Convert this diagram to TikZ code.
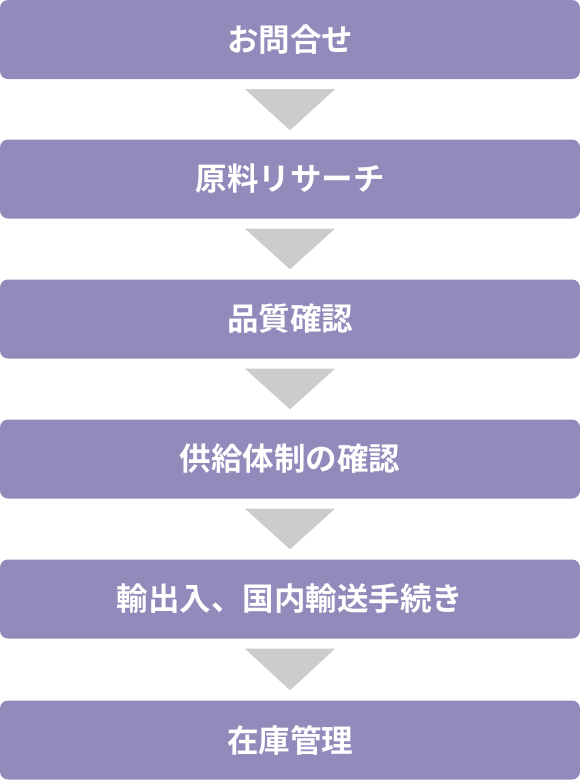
\documentclass[tikz,border=0pt]{standalone}
\usepackage{fontspec}
\usepackage{tikz}
\newfontfamily\jpfont{Noto Sans CJK JP}[BoldFont={* Bold}]
\definecolor{stepviolet}{HTML}{9389BA}
\definecolor{arrowgrey}{HTML}{CCCCCC}

\begin{document}
\begin{tikzpicture}[x=1pt,y=1pt]
\tikzstyle{every node}+=[inner sep=0pt]
\tikzstyle{stepbox}=[fill=stepviolet, rounded corners=8pt, minimum width=580pt, minimum height=79pt, text=white, font=\jpfont\bfseries\fontsize{31.5}{32}\selectfont]
\tikzstyle{downtri}=[fill=arrowgrey]
\useasboundingbox (0,0) rectangle (580,-780);
\node [stepbox] (inquiry) at (290,-39.5) {お問合せ};
\node [stepbox] (research) at (290,-179) {原料リサーチ};
\node [stepbox] (quality) at (290,-319) {品質確認};
\node [stepbox] (supply) at (290,-459) {供給体制の確認};
\node [stepbox] (import) at (290,-599) {輸出入、国内輸送手続き};
\node [stepbox] (stock) at (290,-740) {在庫管理};
\fill [downtri] ([xshift=-45pt,yshift=-10pt]inquiry.south) -- ([xshift=45pt,yshift=-10pt]inquiry.south) -- ([yshift=9pt]research.north) -- cycle;
\fill [downtri] ([xshift=-45pt,yshift=-10pt]research.south) -- ([xshift=45pt,yshift=-10pt]research.south) -- ([yshift=10pt]quality.north) -- cycle;
\fill [downtri] ([xshift=-45pt,yshift=-10pt]quality.south) -- ([xshift=45pt,yshift=-10pt]quality.south) -- ([yshift=10pt]supply.north) -- cycle;
\fill [downtri] ([xshift=-45pt,yshift=-10pt]supply.south) -- ([xshift=45pt,yshift=-10pt]supply.south) -- ([yshift=10pt]import.north) -- cycle;
\fill [downtri] ([xshift=-45pt,yshift=-10pt]import.south) -- ([xshift=45pt,yshift=-10pt]import.south) -- ([yshift=10pt]stock.north) -- cycle;
\end{tikzpicture}
\end{document}
